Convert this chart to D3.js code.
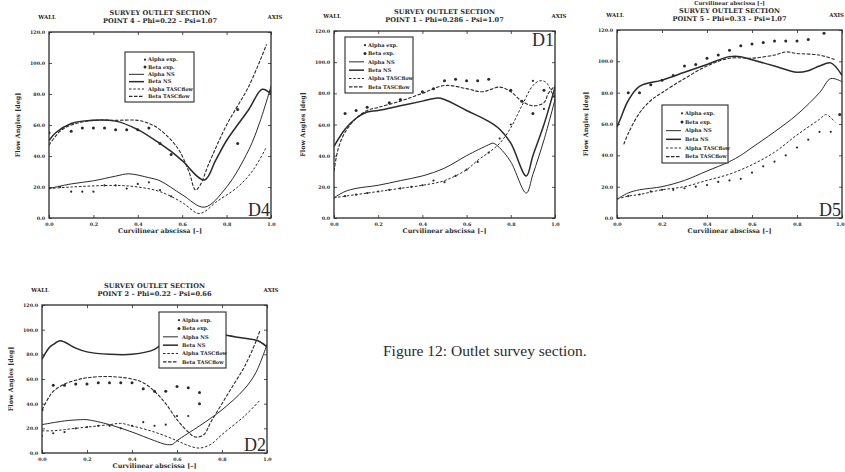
<!DOCTYPE html>
<html>
<head>
<meta charset="utf-8">
<script src="https://cdn.jsdelivr.net/npm/d3@7"></script>
<style>
  body { margin: 0; background: #fff; }
  svg text { font-family: "DejaVu Serif", "Liberation Serif", serif; fill: #2a2a2a; }
  .tick text { font-size: 4.8px; font-weight: bold; }
  .ttl { font-size: 6.6px; font-weight: bold; }
  .side { font-size: 5.4px; font-weight: bold; }
  .axlab { font-size: 6.4px; font-weight: bold; }
  .toplab { font-size: 5.4px; font-weight: bold; }
  .leg { font-size: 5.1px; font-weight: bold; }
  .dlab { font-family: "Liberation Serif", serif; font-size: 18px; }
  .caption { font-family: "Liberation Serif", serif; font-size: 15.5px; }
</style>
</head>
<body>
<div id="graphic"></div>
<script>
// ---- data ----
var xTicks = [0, 0.2, 0.4, 0.6, 0.8, 1.0];
var yTicks = [0, 20, 40, 60, 80, 100, 120];
var legendLabels = ["Alpha exp.", "Beta exp.", "Alpha NS", "Beta NS", "Alpha TASCflow", "Beta TASCflow"];

// D4 - point 4
var d4AlphaExp = [[0,19],[0.05,20],[0.1,17],[0.15,17],[0.2,17],[0.25,21],[0.3,21],[0.35,19],[0.4,22],[0.45,23],[0.5,18],[0.55,14]];
var d4BetaExp = [[0,55],[0.1,56],[0.15,58],[0.2,58],[0.25,58],[0.3,57],[0.35,57],[0.4,57],[0.45,58],[0.5,48],[0.55,41],[0.85,70],[0.85,48],[1.0,82]];
var d4AlphaNS = [[0,19],[0.1,22],[0.2,24],[0.3,27],[0.36,28.5],[0.45,26],[0.5,24],[0.6,15],[0.7,7],[0.8,20],[0.9,44],[0.95,62],[1.0,85]];
var d4BetaNS = [[0,50],[0.03,55],[0.1,61],[0.15,62.5],[0.3,62.5],[0.4,57],[0.5,48],[0.55,43],[0.6,37],[0.7,24.5],[0.75,37],[0.8,50],[0.9,70],[0.96,83],[1.0,80]];
var d4AlphaTF = [[0,19],[0.1,20],[0.3,21],[0.4,20],[0.5,17],[0.6,10],[0.67,3],[0.7,4],[0.75,10],[0.85,20],[0.92,31],[0.98,46]];
var d4BetaTF = [[0,47],[0.05,56],[0.1,60],[0.2,63],[0.3,63],[0.4,63],[0.45,61],[0.5,57],[0.58,45],[0.63,30],[0.66,18],[0.68,21],[0.72,35],[0.8,60],[0.9,85],[0.98,112]];

// D1 - point 1
var d1AlphaExp = [[0,13],[0.05,14],[0.1,15],[0.15,16],[0.2,17],[0.25,18],[0.3,19],[0.35,20],[0.4,21],[0.45,24],[0.5,23],[0.55,27],[0.6,31],[0.65,36],[0.7,42],[0.75,51],[0.8,60],[0.85,75],[0.9,88],[0.95,70]];
var d1BetaExp = [[0.05,67],[0.1,69],[0.15,71],[0.25,74],[0.3,76],[0.4,81],[0.45,83],[0.5,88],[0.55,89],[0.6,88],[0.65,88],[0.7,89],[0.8,82],[0.85,75],[0.9,67],[0.95,82],[1.0,78]];
var d1AlphaNS = [[0,13],[0.05,17],[0.1,19],[0.2,21],[0.3,24],[0.4,27],[0.5,32],[0.6,40],[0.7,47],[0.72,48],[0.75,45],[0.8,36],[0.87,16],[0.9,28],[0.95,50],[1.0,76]];
var d1BetaNS = [[0,46],[0.05,57],[0.1,64],[0.15,68],[0.2,69],[0.3,72],[0.4,75],[0.47,77],[0.5,76],[0.6,69],[0.7,62],[0.75,57],[0.8,48],[0.87,27],[0.9,40],[0.95,60],[1.0,84]];
var d1AlphaTF = [[0,13],[0.1,15],[0.2,17],[0.3,19],[0.4,21],[0.5,24],[0.6,31],[0.65,37],[0.7,42],[0.75,48],[0.8,58],[0.85,72],[0.9,85],[0.93,88],[0.96,87],[1.0,75]];
var d1BetaTF = [[0,30],[0.02,45],[0.05,55],[0.1,64],[0.15,69],[0.2,71],[0.3,75],[0.4,80],[0.5,85],[0.6,83],[0.67,81],[0.75,84],[0.8,81],[0.85,75],[0.9,72],[0.95,74],[0.97,80],[1.0,85]];

// D5 - point 5
var d5AlphaExp = [[0.05,14],[0.1,15],[0.15,17],[0.2,18],[0.25,18],[0.3,19],[0.35,20],[0.4,21],[0.45,23],[0.5,24],[0.55,25],[0.6,29],[0.65,33],[0.7,36],[0.75,40],[0.8,45],[0.85,50],[0.9,55],[0.95,55]];
var d5BetaExp = [[0.05,80],[0.1,80],[0.15,85],[0.2,88],[0.25,91],[0.3,97],[0.35,98],[0.4,102],[0.45,104],[0.5,107],[0.55,110],[0.6,111],[0.65,112],[0.7,113],[0.75,113],[0.8,113],[0.85,114],[0.92,118],[0.99,66]];
var d5AlphaNS = [[0,12],[0.05,16],[0.1,18],[0.2,20],[0.3,24],[0.4,30],[0.5,36],[0.55,40],[0.6,45],[0.7,55],[0.8,66],[0.9,80],[0.95,89],[1.0,87]];
var d5BetaNS = [[0,58],[0.02,65],[0.05,75],[0.1,84],[0.2,88],[0.3,93],[0.4,98],[0.5,103],[0.55,103],[0.6,101],[0.7,97],[0.8,93],[0.85,94],[0.9,97],[0.95,99],[1.0,91]];
var d5AlphaTF = [[0,12],[0.05,14],[0.1,15],[0.2,18],[0.3,20],[0.4,24],[0.5,28],[0.6,34],[0.7,42],[0.8,53],[0.9,63],[0.93,66],[0.97,61]];
var d5BetaTF = [[0.03,47],[0.05,54],[0.1,67],[0.15,75],[0.2,80],[0.3,89],[0.4,97],[0.5,102],[0.6,102],[0.7,104],[0.75,106],[0.8,105],[0.9,104],[0.97,101]];

// D2 - point 2
var d2AlphaExp = [[0,14],[0.05,16],[0.1,17],[0.15,20],[0.2,21],[0.25,22],[0.3,22],[0.35,20],[0.4,22],[0.45,25],[0.5,22],[0.55,23],[0.6,30],[0.65,30]];
var d2BetaExp = [[0,35],[0.05,55],[0.1,55],[0.15,56],[0.2,56],[0.25,57],[0.3,57],[0.35,57],[0.4,57],[0.45,52],[0.5,50],[0.55,50],[0.6,54],[0.65,53],[0.7,49],[0.7,40]];
var d2AlphaNS = [[0,23],[0.1,26],[0.17,27],[0.2,27],[0.3,23],[0.4,17],[0.5,10],[0.55,7],[0.58,7],[0.6,10],[0.7,22],[0.8,35],[0.9,52],[0.95,65],[1.0,88]];
var d2BetaNS = [[0,76],[0.03,85],[0.05,88],[0.08,91],[0.1,90],[0.15,85],[0.2,82],[0.3,80],[0.4,80],[0.5,84],[0.55,92],[0.6,103],[0.65,103],[0.7,100],[0.8,96],[0.9,93],[0.96,91],[1.0,86]];
var d2AlphaTF = [[0,18],[0.05,18],[0.1,19],[0.2,21],[0.3,23],[0.35,24],[0.4,22],[0.5,17],[0.6,10],[0.65,6],[0.7,4],[0.75,7],[0.8,15],[0.9,30],[0.97,43]];
var d2BetaTF = [[0,35],[0.03,45],[0.05,50],[0.1,56],[0.15,59],[0.2,61],[0.3,62],[0.4,60],[0.45,57],[0.5,50],[0.55,40],[0.6,27],[0.65,17],[0.68,13],[0.72,15],[0.75,25],[0.8,40],[0.85,55],[0.9,70],[0.95,90],[0.97,100]];

var panels = [
  { id: "D4", title: "POINT 4 \u2013 Phi=0.22 \u2013 Psi=1.07", x0: 49, x1: 271, y0: 32, y1: 218,
    legend: [125, 52, 69, 50], dlab: "br",
    s: [d4AlphaExp, d4BetaExp, d4AlphaNS, d4BetaNS, d4AlphaTF, d4BetaTF] },
  { id: "D1", title: "POINT 1 \u2013 Phi=0.286 \u2013 Psi=1.07", x0: 334, x1: 555, y0: 31, y1: 218,
    legend: [345, 37, 68, 56], dlab: "tr",
    s: [d1AlphaExp, d1BetaExp, d1AlphaNS, d1BetaNS, d1AlphaTF, d1BetaTF] },
  { id: "D5", title: "POINT 5 \u2013 Phi=0.33 \u2013 Psi=1.07", x0: 617, x1: 842, y0: 30, y1: 218,
    legend: [662, 105, 66, 58], dlab: "br", topLabel: true, edge: true,
    s: [d5AlphaExp, d5BetaExp, d5AlphaNS, d5BetaNS, d5AlphaTF, d5BetaTF] },
  { id: "D2", title: "POINT 2 \u2013 Phi=0.22 \u2013 Psi=0.66", x0: 42, x1: 267, y0: 305, y1: 453,
    legend: [159, 312, 67, 56], dlab: "br",
    s: [d2AlphaExp, d2BetaExp, d2AlphaNS, d2BetaNS, d2AlphaTF, d2BetaTF] }
];

// series styles: 0,1 points, 2..5 lines
var styles = [
  { type: "pt", r: 1.1 },
  { type: "pt", r: 1.5 },
  { type: "ln", w: 1.0, dash: null },
  { type: "ln", w: 1.5, dash: null },
  { type: "ln", w: 1.0, dash: "2.5,1.8" },
  { type: "ln", w: 1.1, dash: "3.5,1.5" }
];

var ink = "#2a2a2a";
var svg = d3.select("#graphic").append("svg").attr("width", 845).attr("height", 472);

function drawPanel(p, pi) {
  var x = d3.scaleLinear().domain([0, 1]).range([p.x0, p.x1]);
  var y = d3.scaleLinear().domain([0, 120]).range([p.y1, p.y0]);
  var g = svg.append("g");
  var cx = (p.x0 + p.x1) / 2;

  g.append("clipPath").attr("id", "clip" + pi).append("rect")
    .attr("x", p.x0).attr("y", p.y0).attr("width", p.x1 - p.x0).attr("height", p.y1 - p.y0);

  // header
  if (p.topLabel) {
    g.append("text").attr("class", "toplab").attr("x", cx).attr("y", 4.5).attr("text-anchor", "middle").text("Curvilinear abscissa [\u2013]");
  }
  g.append("text").attr("class", "ttl").attr("x", cx).attr("y", p.y0 - 17).attr("text-anchor", "middle").text("SURVEY OUTLET SECTION");
  g.append("text").attr("class", "ttl").attr("x", cx).attr("y", p.y0 - 9).attr("text-anchor", "middle").text(p.title);
  g.append("text").attr("class", "side").attr("x", p.x0 - 2).attr("y", p.y0 - 13).attr("text-anchor", "middle").text("WALL");
  var ax = g.append("text").attr("class", "side").attr("y", p.y0 - 13).text("AXIS");
  if (p.edge) ax.attr("x", 844).attr("text-anchor", "end");
  else ax.attr("x", p.x1 + 4).attr("text-anchor", "middle");

  // axes
  var xAxis = d3.axisBottom(x).tickValues(xTicks).tickFormat(d3.format(".1f")).tickSize(-3).tickPadding(5);
  var yAxis = d3.axisLeft(y).tickValues(yTicks).tickFormat(d3.format(".1f")).tickSize(-3).tickPadding(4);
  var xa = g.append("g").attr("transform", "translate(0," + p.y1 + ")").call(xAxis);
  g.append("g").attr("transform", "translate(" + p.x0 + ",0)").call(yAxis);
  g.append("g").attr("transform", "translate(0," + p.y0 + ")")
    .call(d3.axisTop(x).tickValues(xTicks).tickSize(-3).tickFormat(""));
  g.append("g").attr("transform", "translate(" + p.x1 + ",0)")
    .call(d3.axisRight(y).tickValues(yTicks).tickSize(-3).tickFormat(""));
  g.selectAll(".domain").remove();
  g.selectAll(".tick line").attr("stroke", ink).attr("stroke-width", 0.8);
  g.selectAll(".tick text").attr("fill", ink);
  if (p.edge) {
    // keep the last tick label inside the page
    xa.selectAll(".tick text").filter(function(d) { return d === 1; }).attr("text-anchor", "end").attr("dx", "2");
  }

  g.append("rect").attr("x", p.x0).attr("y", p.y0).attr("width", p.x1 - p.x0).attr("height", p.y1 - p.y0)
    .attr("fill", "none").attr("stroke", ink).attr("stroke-width", 1.3);

  g.append("text").attr("class", "axlab").attr("x", cx).attr("y", p.y1 + 15).attr("text-anchor", "middle").text("Curvilinear abscissa [\u2013]");
  g.append("text").attr("class", "axlab")
    .attr("transform", "translate(" + (p.x0 - 29) + "," + ((p.y0 + p.y1) / 2) + ") rotate(-90)")
    .attr("text-anchor", "middle").text("Flow Angles [deg]");

  // data
  var line = d3.line().x(function(d) { return x(d[0]); }).y(function(d) { return y(d[1]); })
    .curve(d3.curveCatmullRom.alpha(0.5));
  var body = g.append("g").attr("clip-path", "url(#clip" + pi + ")");
  p.s.forEach(function(data, i) {
    var st = styles[i];
    if (st.type === "ln") {
      body.append("path").datum(data).attr("d", line).attr("fill", "none")
        .attr("stroke", ink).attr("stroke-width", st.w).attr("stroke-dasharray", st.dash);
    } else {
      body.selectAll("circle.s" + i).data(data).join("circle").attr("class", "s" + i)
        .attr("cx", function(d) { return x(d[0]); }).attr("cy", function(d) { return y(d[1]); })
        .attr("r", st.r).attr("fill", ink);
    }
  });

  // legend
  var L = p.legend;
  var lg = g.append("g").attr("transform", "translate(" + L[0] + "," + L[1] + ")");
  lg.append("rect").attr("width", L[2]).attr("height", L[3]).attr("fill", "#fff").attr("stroke", ink).attr("stroke-width", 1.1);
  var rowH = (L[3] - 6) / 6;
  legendLabels.forEach(function(lab, i) {
    var ry = 4 + rowH * (i + 0.5);
    var st = styles[i];
    if (st.type === "pt") {
      lg.append("circle").attr("cx", 20).attr("cy", ry).attr("r", st.r).attr("fill", ink);
    } else {
      lg.append("line").attr("x1", 4).attr("x2", 19).attr("y1", ry).attr("y2", ry)
        .attr("stroke", ink).attr("stroke-width", st.w).attr("stroke-dasharray", st.dash);
    }
    lg.append("text").attr("class", "leg").attr("x", 23).attr("y", ry + 1.7).text(lab);
  });

  // panel tag
  var dl = g.append("text").attr("class", "dlab").attr("text-anchor", "end").attr("x", p.x1 - 1).text(p.id);
  if (p.dlab === "tr") dl.attr("y", p.y0 + 15); else dl.attr("y", p.y1 - 2);
}

panels.forEach(drawPanel);

svg.append("text").attr("class", "caption").attr("x", 383).attr("y", 356).text("Figure 12: Outlet survey section.");
</script>
</body>
</html>
